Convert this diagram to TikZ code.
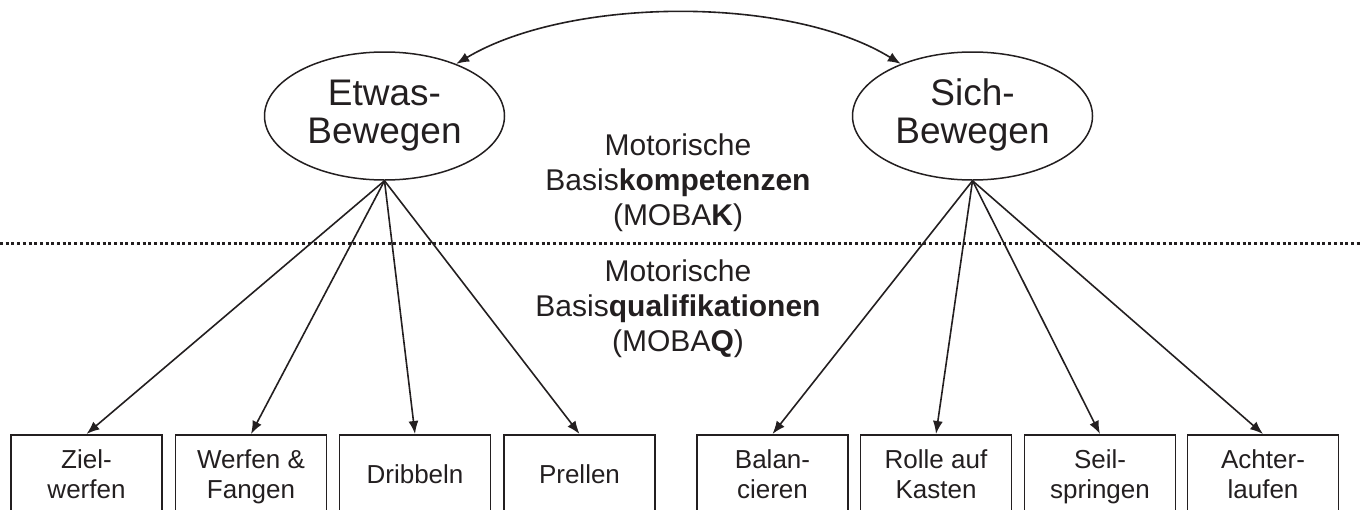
\documentclass[tikz,border=0pt]{standalone}
\usepackage{fontspec}
\setmainfont{Liberation Sans}
\usetikzlibrary{arrows.meta,shapes.geometric}
\definecolor{ink}{RGB}{35,31,32}
\newcommand{\mlines}[1]{\begin{tabular}[t]{@{}c@{}}#1\end{tabular}}
\begin{document}
\begin{tikzpicture}[x=1pt,y=-1pt,line width=1.5pt,draw=ink,text=ink,
  ell/.style={draw,ellipse,minimum width=240pt,minimum height=128pt,inner sep=0pt},
  boxst/.style={draw,rectangle,minimum width=151pt,minimum height=120pt,anchor=north,inner sep=0pt},
  etext/.style={font=\fontsize{37}{38}\selectfont,anchor=base,inner sep=0pt},
  btext/.style={font=\fontsize{26}{30}\selectfont,anchor=base,inner sep=0pt},
  mtext/.style={font=\fontsize{30}{35}\selectfont,anchor=base,inner sep=0pt},
  arr/.style={line width=1.6pt,-{Latex[length=13pt,width=10pt]}},
  biarr/.style={line width=1.6pt,{Latex[length=13pt,width=10pt]}-{Latex[length=13pt,width=10pt]}},
  dotline/.style={line width=3pt,dash pattern=on 3pt off 2.7pt}]
\clip (0,0) rectangle (1362,509);
% ellipses
\node[ell] (A) at (384.5,116) {};
\node[ell] (B) at (972.5,116) {};
\node[etext] (At) at (384.5,105) {\mlines{Etwas-\\Bewegen}};
\node[etext] (Bt) at (972.5,105) {\mlines{Sich-\\Bewegen}};
% correlation arrow
\draw[biarr] (A.36) .. controls +(112,-67) and +(-112,-69) .. (B.144);
% dotted separator
\coordinate (dl) at (0,243);
\coordinate (dr) at (1362,243);
\draw[dotline] (dl) -- (dr);
% middle texts
\node[mtext] (mk) at (678,155) {\mlines{Motorische\\Basis\textbf{kompetenzen}\\(MOBA\textbf{K})}};
\node[mtext] (mq) at (678,281) {\mlines{Motorische\\Basis\textbf{qualifikationen}\\(MOBA\textbf{Q})}};
% boxes
\node[boxst] (b1) at (86.5,434) {};
\node[boxst] (b2) at (251,434) {};
\node[boxst] (b3) at (415,434) {};
\node[boxst] (b4) at (579.5,434) {};
\node[boxst] (b5) at (772.5,434) {};
\node[boxst] (b6) at (936,434) {};
\node[boxst] (b7) at (1100,434) {};
\node[boxst] (b8) at (1263,434) {};
\node[btext] (t1) at (86.5,468) {\mlines{Ziel-\\werfen}};
\node[btext] (t2) at (251,468) {\mlines{Werfen \&\\Fangen}};
\node[btext] (t3) at (415,483) {Dribbeln};
\node[btext] (t4) at (579.5,483) {Prellen};
\node[btext] (t5) at (772.5,468) {\mlines{Balan-\\cieren}};
\node[btext] (t6) at (936,468) {\mlines{Rolle auf\\Kasten}};
\node[btext] (t7) at (1100,468) {\mlines{Seil-\\springen}};
\node[btext] (t8) at (1263,468) {\mlines{Achter-\\laufen}};
% loadings
\foreach \b in {b1,b2,b3,b4} \draw[arr] (A.south) -- (\b.north);
\foreach \b in {b5,b6,b7,b8} \draw[arr] (B.south) -- (\b.north);
\end{tikzpicture}
\end{document}
